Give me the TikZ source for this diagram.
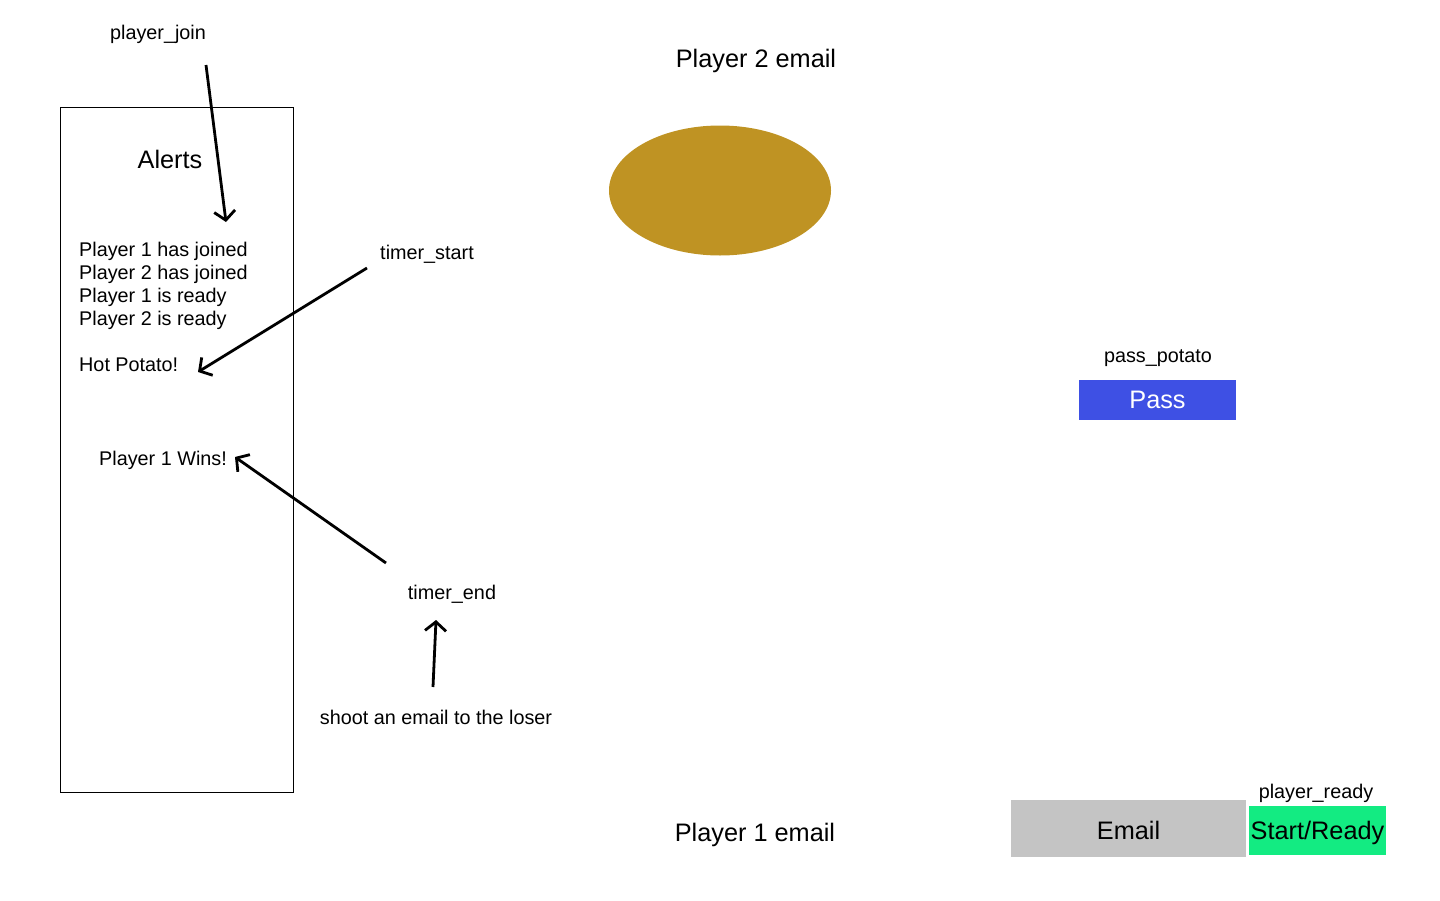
\documentclass[tikz,border=0pt]{standalone}
\usepackage{fontspec}
\setmainfont{Liberation Sans}
\usetikzlibrary{arrows.meta, positioning, shapes.geometric}

\definecolor{potatogold}{RGB}{191,147,35}
\definecolor{passblue}{RGB}{62,80,228}
\definecolor{mailgray}{RGB}{196,196,196}
\definecolor{readygreen}{RGB}{19,235,130}

\tikzset{
    lbl/.style={font=\fontsize{19.8}{23}\selectfont, inner sep=0pt},
    big/.style={font=\fontsize{25.3}{30}\selectfont, inner sep=0pt},
    btn/.style={big, minimum width=#1, text depth=0pt},
    flow/.style={-{Straight Barb[length=9pt, width=21pt]}, line width=2.8pt}
}

\begin{document}
\begin{tikzpicture}[x=1pt, y=-1pt]
\useasboundingbox (0,0) rectangle (1440,900);

% Alerts panel
\draw[line width=1pt] (60,107) rectangle (293,792);
\node[big] (alerts) at (170,159) {Alerts};
\foreach \y/\msg/\nm in {256/Player 1 has joined/a1, 279/Player 2 has joined/a2, 302/Player 1 is ready/a3, 325/Player 2 is ready/a4, 371/Hot Potato!/hot} {
    \node[lbl, anchor=base west] (\nm) at (79,\y) {\msg};
}
\node[lbl, anchor=base west] (wins) at (99,465) {Player 1 Wins!};

% Event labels
\node[lbl] (join) at (158,34) {player\_join};
\node[lbl] (tstart) at (427,254) {timer\_start};
\node[lbl] (tend) at (452,594) {timer\_end};
\node[lbl] (shoot) at (436,717) {shoot an email to the loser};

% Arrow ends
\coordinate (joinA) at (206,65);   \coordinate (joinB) at (226,222);
\coordinate (startA) at (367,268); \coordinate (startB) at (198,372);
\coordinate (endA) at (386,563);   \coordinate (endB) at (235,457);
\coordinate (shootA) at (433,687); \coordinate (shootB) at (436,620);

\draw[flow] (joinA) -- (joinB);
\draw[flow] (startA) -- (startB);
\draw[flow] (endA) -- (endB);
\draw[flow] (shootA) -- (shootB);

% Game area
\node[big] (p2) at (756,61) {Player 2 email};
\node[ellipse, fill=potatogold, minimum width=222pt, minimum height=130pt, inner sep=0pt] (potato) at (720,190.5) {};
\node[big] (p1) at (755,835) {Player 1 email};

% Buttons
\node[lbl] (passlbl) at (1158,358) {pass\_potato};
\node[btn=157pt, minimum height=40pt, fill=passblue, text=white] (pass) at (1157.5,400) {Pass};
\node[btn=235pt, minimum height=57pt, fill=mailgray, text height=22pt] (email) at (1128.5,828.5) {Email};
\node[lbl] (readylbl) at (1316,793) {player\_ready};
\node[btn=137pt, minimum height=49pt, fill=readygreen] (ready) at (1317.5,830.5) {Start/Ready};
\end{tikzpicture}
\end{document}
